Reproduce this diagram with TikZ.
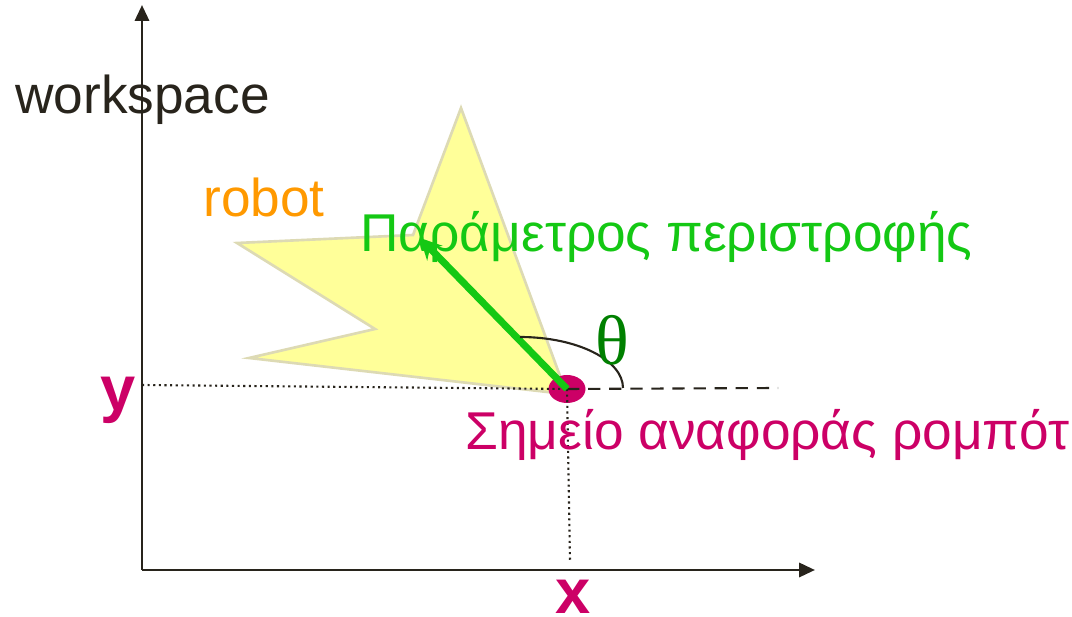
\documentclass[tikz,border=0pt]{standalone}
\usepackage{fontspec}
\setmainfont{Liberation Sans}
\newfontfamily\thetafont{Liberation Serif}
\usetikzlibrary{arrows.meta, shapes.geometric}
\definecolor{axisgray}{RGB}{40,36,28}
\definecolor{robotorange}{RGB}{255,153,0}
\definecolor{paramgreen}{RGB}{20,200,20}
\definecolor{thetagreen}{RGB}{0,128,0}
\definecolor{refmagenta}{RGB}{204,0,102}
\definecolor{staryellow}{RGB}{255,255,153}
\definecolor{stardraw}{RGB}{221,218,180}
\begin{document}
\begin{tikzpicture}[
    x=0.02cm, y=-0.02cm,
    font=\fontsize{30.3}{35}\selectfont,
    axis/.style={draw=axisgray, line width=1.6pt, -{Triangle[length=9pt, width=8pt]}},
    guide/.style={draw=axisgray, line width=1.2pt, dotted},
    dashline/.style={draw=axisgray, line width=1.2pt, dash pattern=on 7pt off 5pt},
    lbl/.style={inner sep=0pt, anchor=base west},
    coordlbl/.style={inner sep=0pt, text=refmagenta, font=\fontsize{36}{40}\selectfont\bfseries},
    refpt/.style={ellipse, fill=refmagenta, inner sep=0pt,
                  minimum width=0.74cm, minimum height=0.56cm},
    heading/.style={draw=paramgreen, line width=4pt, -{Stealth[length=12pt, width=12pt]}}
]
\useasboundingbox (0,0) rectangle (1072,617);

% axes
\coordinate (O) at (142,570);
\coordinate (ytop) at (142,5);
\coordinate (xend) at (815,570);
\draw[axis] (O) -- (ytop);
\draw[axis] (O) -- (xend);

% robot body
\draw[fill=staryellow, draw=stardraw, line width=1.5pt]
  (461,108) -- (563,384) -- (556,393) -- (249,358) -- (375,329)
  -- (237,243) -- (413,235) -- cycle;

% reference point and guides
\node[refpt] (R) at (567,389) {};
\coordinate (yproj) at (142,385);
\coordinate (xproj) at (570,560);
\coordinate (dashend) at (778,388);
\draw[guide] (yproj) -- (R.center);
\draw[guide] (R.center) -- (xproj);
\draw[dashline] (R.center) -- (dashend);

% orientation
\coordinate (tip) at (420,238);
\draw[heading] (R.center) -- (tip);
\coordinate (arcA) at (520,337);
\coordinate (arcB) at (623,388);
\draw[draw=axisgray, line width=1.2pt] (arcA) .. controls (577,337) and (623,360) .. (arcB);

% labels
\node[lbl, text=axisgray] (ws) at (15,114) {workspace};
\node[lbl, text=robotorange] (rob) at (203,217) {robot};
\node[lbl, text=paramgreen] (param) at (360,252) {Παράμετρος περιστροφής};
\node[lbl, text=refmagenta] (reflbl) at (465,450) {Σημείο αναφοράς ρομπότ};
\node[inner sep=0pt, text=thetagreen, font=\fontsize{40}{44}\selectfont\thetafont] (th) at (612,340) {θ};
\node[coordlbl] (ylbl) at (118,400) {y};
\node[coordlbl] (xlbl) at (573,597) {x};
\end{tikzpicture}
\end{document}
